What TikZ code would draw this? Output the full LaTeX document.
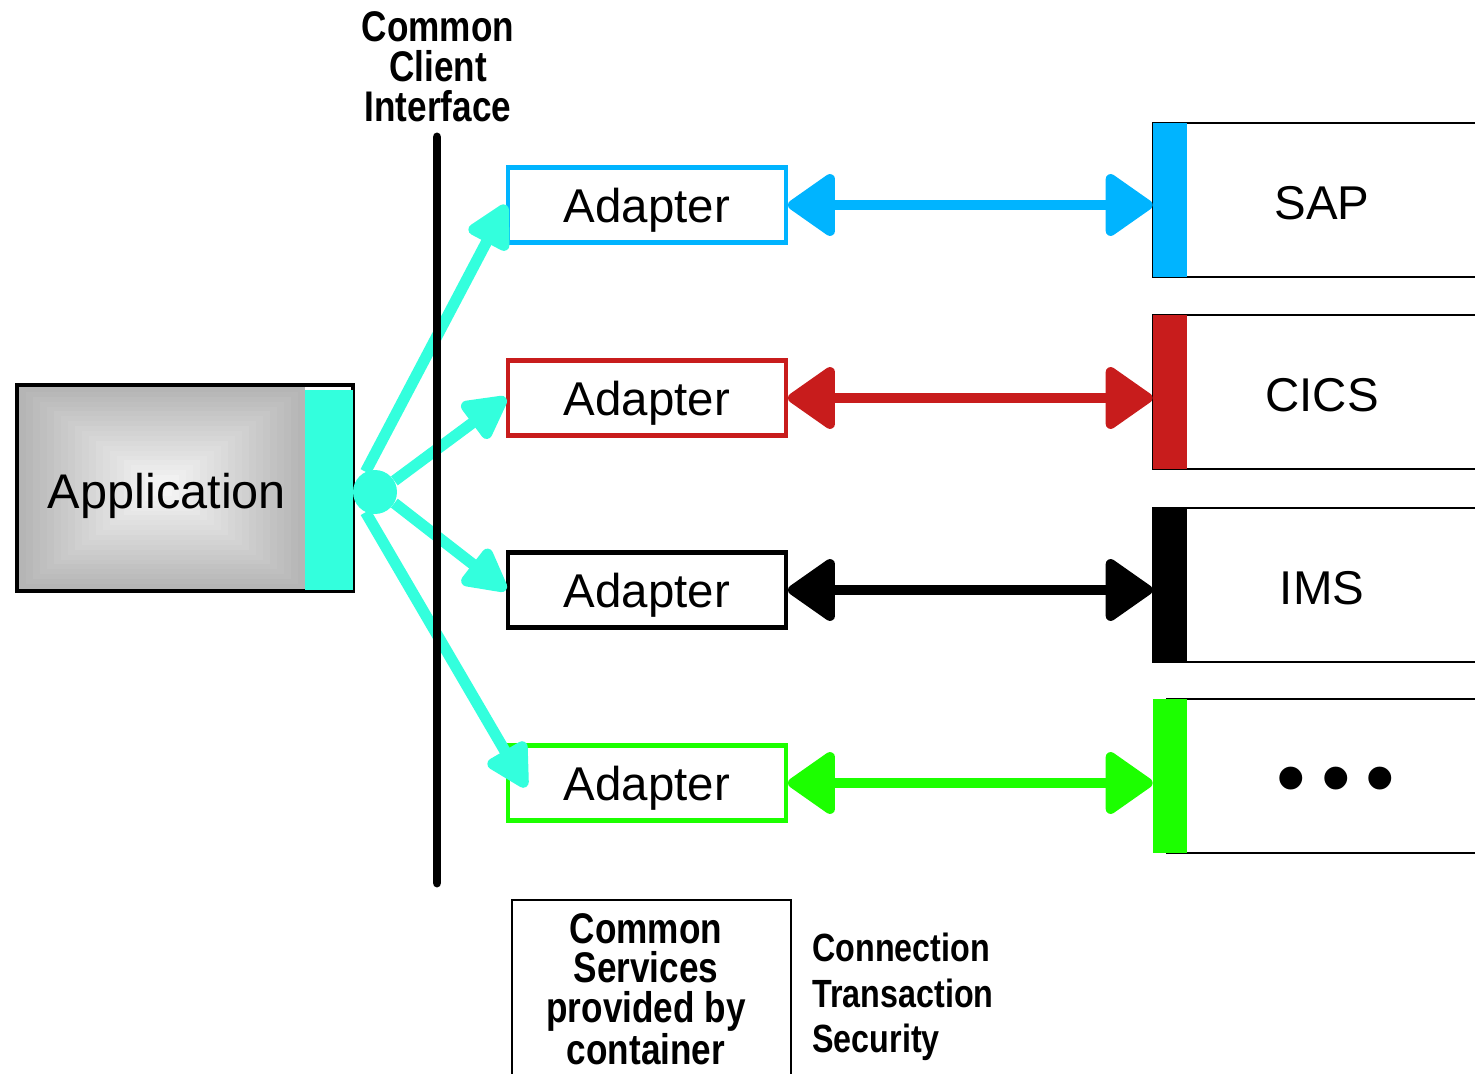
\documentclass[tikz,border=0pt]{standalone}
\usepackage{fontspec}
\setmainfont{Liberation Sans}
\newfontfamily\narrowfont[FakeStretch=0.82]{Liberation Sans}
\usetikzlibrary{arrows.meta}
\definecolor{portcyan}{RGB}{51,255,221}
\definecolor{sapblue}{RGB}{0,180,255}
\definecolor{cicsred}{RGB}{200,28,28}
\definecolor{othergreen}{RGB}{28,255,0}

\begin{document}
\begin{tikzpicture}[x=0.02cm, y=-0.02cm,
	adapter/.style={draw, line width=2.3pt, minimum width=5.56cm, minimum height=1.5cm, text depth=0pt, font=\fontsize{27}{30}\selectfont},
	system/.style={draw, line width=1.2pt, minimum width=6.76cm, minimum height=3.08cm, text height=22.7pt, text depth=0pt, font=\fontsize{27}{30}\selectfont},
	sysbar/.style={fill, minimum width=0.68cm, minimum height=3.08cm, inner sep=0pt},
	heavy/.style={font=\narrowfont\bfseries\fontsize{24.4}{22.7}\selectfont, align=center},
	link/.style={line width=5.7pt, {Triangle[length=29pt,width=39pt,round]}-{Triangle[length=29pt,width=39pt,round]}},
	call/.style={portcyan, line width=6.4pt, -{Triangle[length=28pt,width=28pt,round]}}]
		\useasboundingbox (0,0) rectangle (1475,1074);
		\clip (0,0) rectangle (1475,1074);
		
		\foreach \i in {0,...,19} {
			\pgfmathsetmacro\g{29-1.3*\i}
			\fill[black!\g] (19+\i*7, 387+\i*4.9) rectangle (305-\i*7, 589-\i*4.9);
		}
		\node[draw, line width=2.3pt, minimum width=6.72cm, minimum height=4.12cm, inner sep=0pt] (app) at (185,488) {};
		\node[font=\fontsize{27.7}{30}\selectfont] (appText) at (167,496) {Application};
		\node[fill=portcyan, minimum width=0.96cm, minimum height=4.02cm, inner sep=0pt] (appPort) at (329,490) {};
		\node[circle, fill=portcyan, minimum size=0.88cm, inner sep=0pt] (hub) at (375,492) {};
		
		\node[adapter, draw=sapblue] (adS) at (647,205) {Adapter};
		\node[adapter, draw=cicsred] (adC) at (647,398) {Adapter};
		\node[adapter, draw=black] (adI) at (647,590) {Adapter};
		\node[adapter, draw=othergreen] (adO) at (647,783) {Adapter};
		
		\node[system] (sap) at (1322,200) {SAP};
		\node[system] (cics) at (1322,392) {CICS};
		\node[system] (ims) at (1322,585) {IMS};
		\node[system, text height=34.6pt, font=\fontsize{48}{48}\selectfont] (other) at (1336,776) {•\hspace{8.4pt}•\hspace{8.4pt}•};
		
		\node[sysbar, sapblue] (sapBar) at (1170,200) {};
		\node[sysbar, cicsred] (cicsBar) at (1170,392) {};
		\node[sysbar, black] (imsBar) at (1170,585) {};
		\node[sysbar, othergreen] (otherBar) at (1170,776) {};
		
		\draw[link, sapblue] (adS.east) -- (adS.east -| sapBar.west);
		\draw[link, cicsred] (adC.east) -- (adC.east -| cicsBar.west);
		\draw[link, black] (adI.east) -- (adI.east -| imsBar.west);
		\draw[link, othergreen] (adO.east) -- (adO.east -| otherBar.west);
		
		\draw[call] (hub.115) -- (adS.west);
		\draw[call] (hub.30) -- (adC.west);
		\draw[call] (hub.-30) -- (adI.west);
		\draw[call] (hub.-115) -- ([xshift=0.4cm,yshift=-0.08cm]adO.west);
		
		\node[heavy] (cci) at (438,67) {Common\\Client\\Interface};
		\coordinate (cciTop) at (437,137);
		\coordinate (cciBot) at (437,883);
		\draw[line width=5.1pt, line cap=round] (cciTop) -- (cciBot);
		
		\node[draw, line width=1.2pt, minimum width=5.58cm, minimum height=4.4cm, anchor=north west] (services) at (511,899) {};
		\node[heavy] (servicesText) at (646,989) {Common\\Services\\provided by\\container};
		\node[anchor=west, align=left, inner sep=0pt, font=\narrowfont\bfseries\fontsize{22.4}{25.8}\selectfont] (qos) at (812,997) {Connection\\Transaction\\Security};
		
	\end{tikzpicture}
\end{document}
